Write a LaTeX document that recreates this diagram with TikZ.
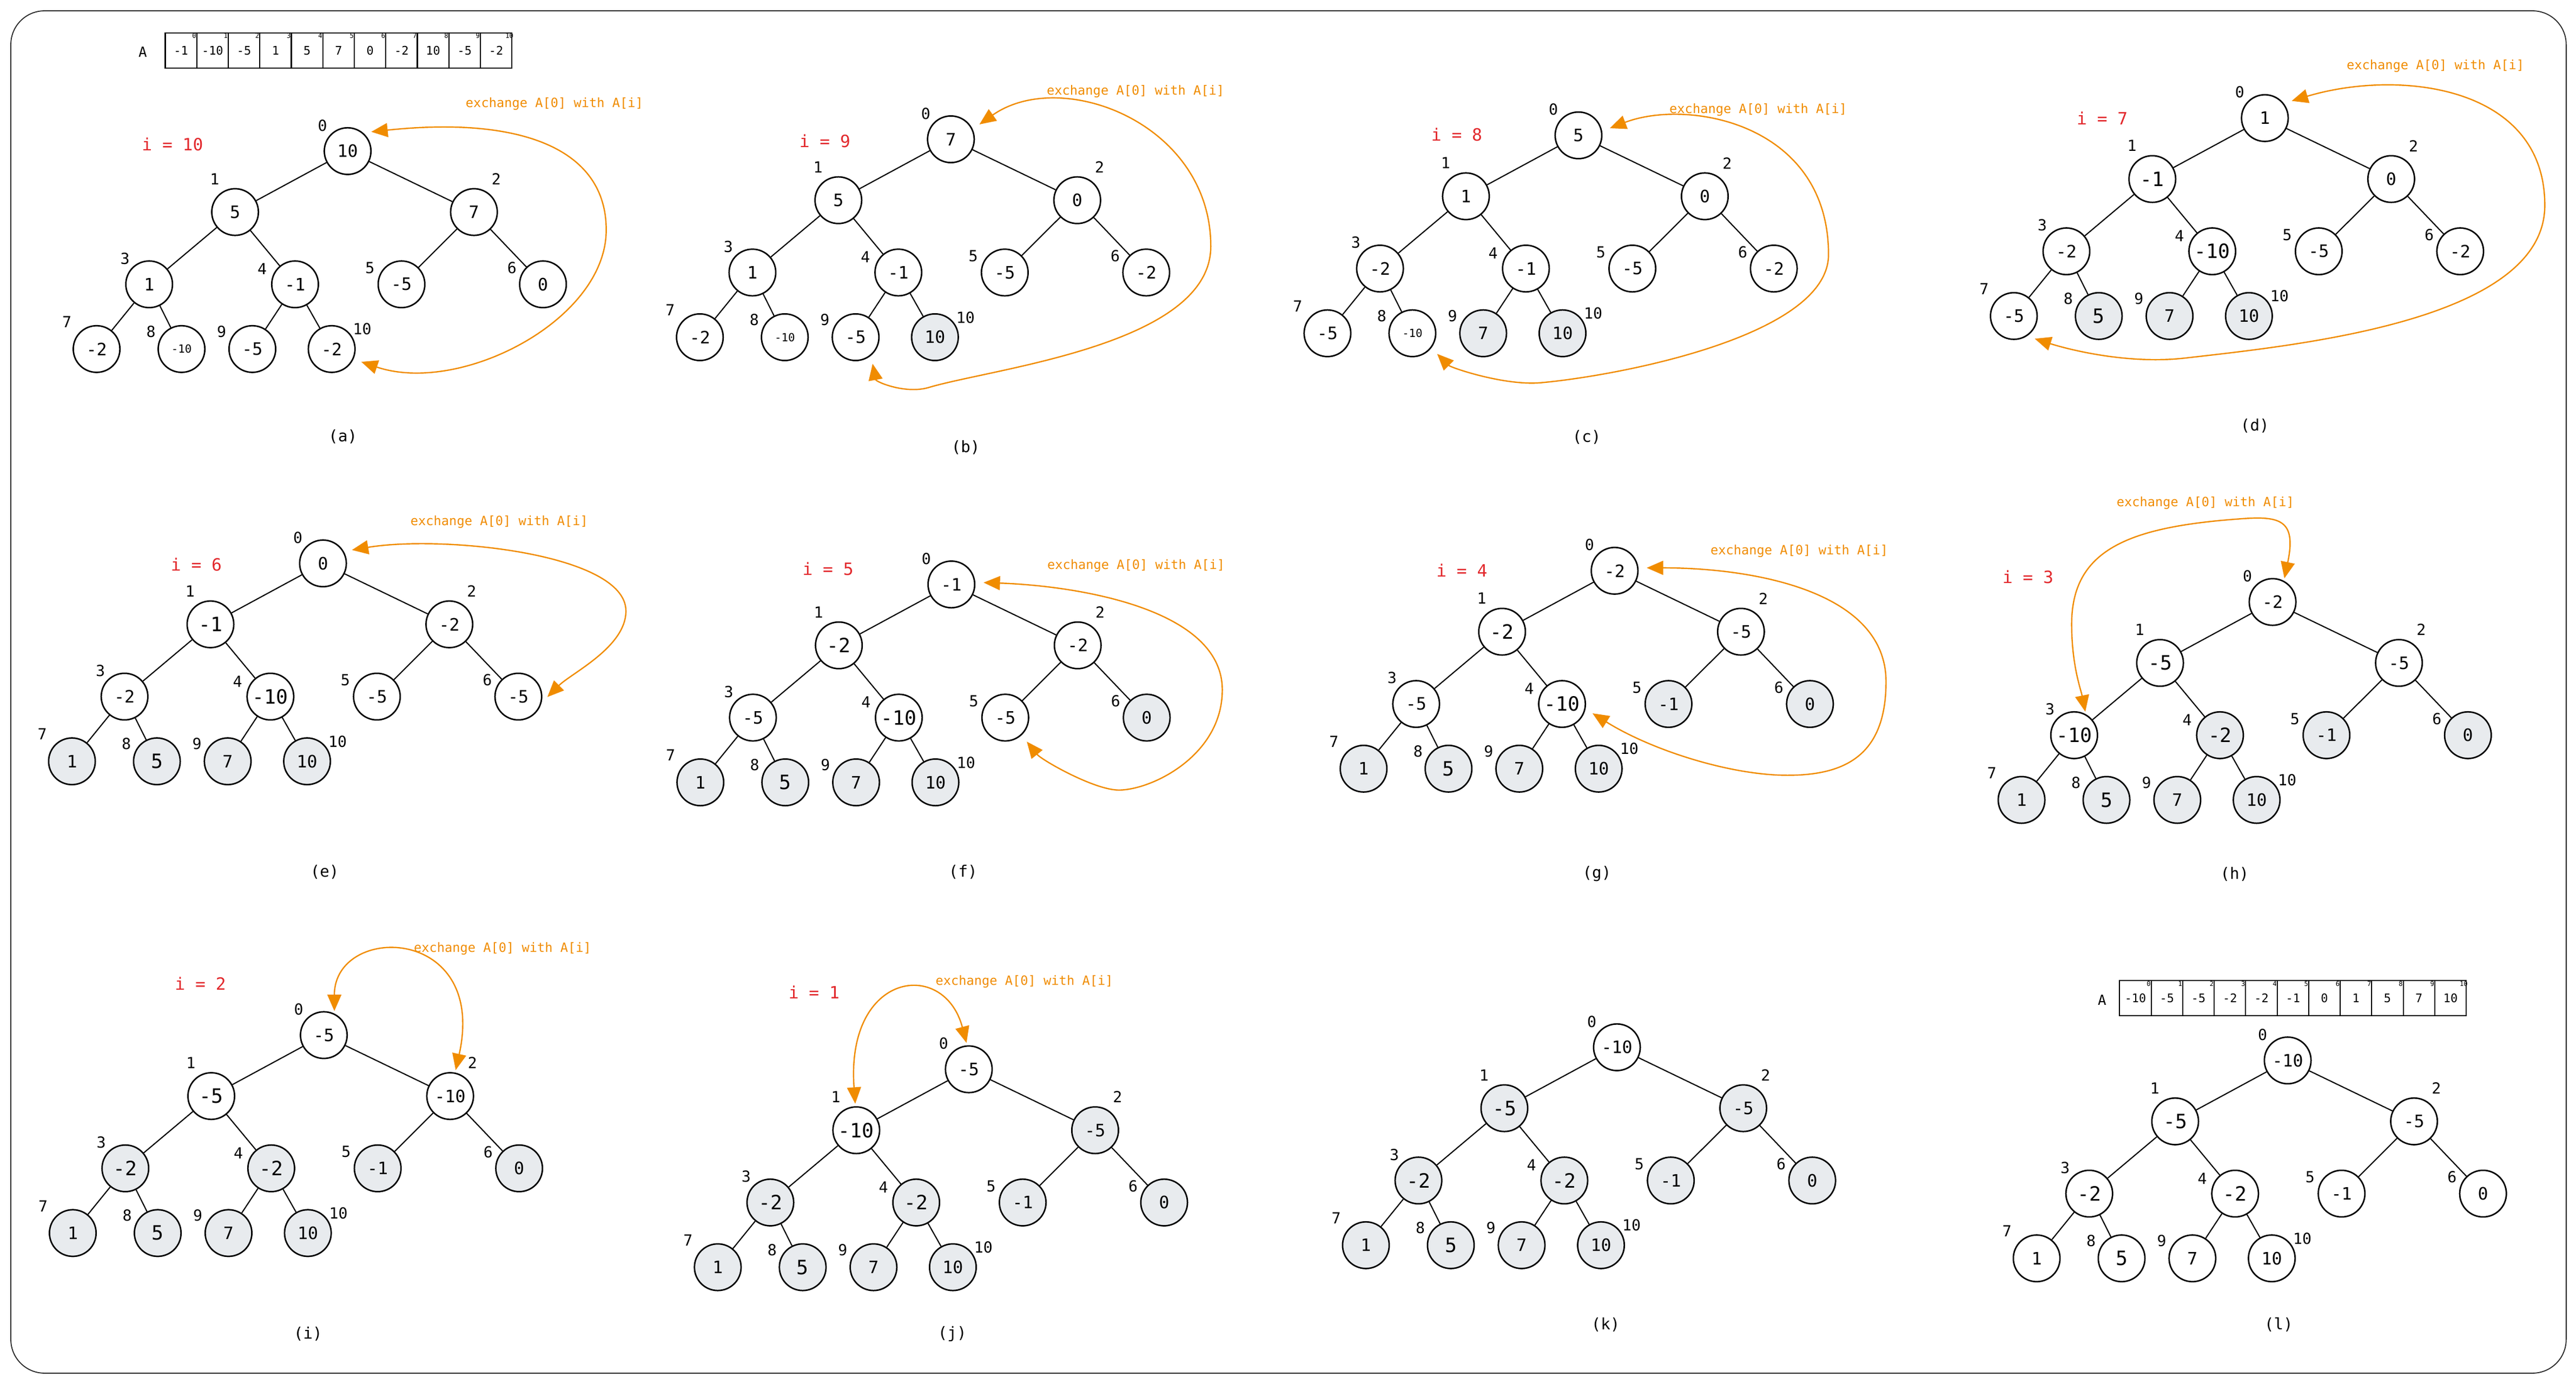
\documentclass[tikz,border=0pt]{standalone}
\usepackage{fontspec}
\setmainfont{DejaVu Sans Mono}
\usetikzlibrary{arrows.meta}

\definecolor{swaporange}{RGB}{240,140,0}
\definecolor{stepred}{RGB}{226,40,44}
\definecolor{sortedgray}{RGB}{232,235,238}
\definecolor{framegray}{RGB}{40,40,40}

\tikzset{x=1pt, y=-1pt}
\tikzset{
  hw/.style={circle, draw, line width=0.9pt, minimum size=28.4pt, inner sep=0pt, fill=white, font=\fontsize{10.4}{12}\selectfont},
  hg/.style={hw, fill=sortedgray},
  hwb/.style={hw, font=\fontsize{12}{14}\selectfont},
  hgb/.style={hg, font=\fontsize{12}{14}\selectfont},
  hwt/.style={hw, font=\fontsize{6.8}{8}\selectfont},
  idx/.style={inner sep=0pt, font=\fontsize{9.3}{11}\selectfont},
  edge/.style={line width=0.7pt},
  swap/.style={draw=swaporange, line width=0.8pt, {Triangle[length=10pt,width=8.5pt]}-{Triangle[length=10pt,width=8.5pt]}, shorten <=#1, shorten >=#1},
  swap/.default=5pt,
  steplabel/.style={inner sep=0pt, text=stepred, font=\fontsize{10.3}{12}\selectfont},
  exlabel/.style={inner sep=0pt, text=swaporange, font=\fontsize{7.8}{9}\selectfont},
  sublabel/.style={inner sep=0pt, font=\fontsize{9.6}{11}\selectfont},
  cell/.style={draw, line width=0.7pt, minimum width=19.18pt, minimum height=21.5pt, inner sep=0pt, font=\fontsize{7.2}{8}\selectfont},
  cellidx/.style={inner sep=0pt, font=\fontsize{4}{5}\selectfont},
  arrname/.style={inner sep=0pt, font=\fontsize{8.5}{10}\selectfont}
}

% one heap: name, root x, root y, value/style for positions 0..10
\newcommand{\heap}[4]{%
\foreach \v/\s [count=\k from 0] in {#4}{
  \pgfmathsetmacro{\dx}{{0,-68.5,76.9,-120.8,-32,32.8,118.9,-152.8,-101.1,-58,-9.7}[\k]}
  \pgfmathsetmacro{\dy}{{0,37.1,37.1,81.1,81.1,81.1,81.1,120.5,120.5,120.5,120.5}[\k]}
  \pgfmathsetmacro{\lx}{{-15.3,-12.4,13.6,-14.7,-20,-19.2,-18.9,-18.1,-18.6,-18.7,18.6}[\k]}
  \pgfmathsetmacro{\ly}{{-15.7,-20.2,-20.2,-15.8,-9.3,-10,-10,-16.5,-10.6,-10.6,-12.1}[\k]}
  \node[h\s] (#1\k) at (#2+\dx,#3+\dy) {\v};
  \node[idx] (#1i\k) at (#2+\dx+\lx,#3+\dy+\ly) {\k};
}
\foreach \p/\c in {0/1,0/2,1/3,1/4,2/5,2/6,3/7,3/8,4/9,4/10}
  \draw[edge] (#1\p) -- (#1\c);
}

% the array row: name, left x, top y, values
\newcommand{\heaparray}[4]{%
\foreach \v [count=\k from 0] in {#4}{
  \node[cell] (#1\k) at (#2+9.59+\k*19.18,#3+10.75) {\v};
  \node[cellidx] (#1i\k) at ([shift={(-1.9,2.2)}]#1\k.north east) {\k};
}}

\begin{document}
\begin{tikzpicture}
\useasboundingbox (0,0) rectangle (1568,842.6);
\draw[framegray, line width=0.6pt, rounded corners=20.5pt] (6.6,6.6) rectangle (1562,836);

% arrays before and after
\node[arrname] (topA) at (86.9,31.5) {A};
\heaparray{ta}{100.6}{20}{-1,-10,-5,1,5,7,0,-2,10,-5,-2}
\node[arrname] (botA) at (1279.5,608.9) {A};
\heaparray{ba}{1290.2}{597}{-10,-5,-5,-2,-2,-1,0,1,5,7,10}

% row 1
\heap{a}{211.6}{92}{10/w,5/w,7/w,1/w,-1/w,-5/w,0/w,-2/w,-10/wt,-5/w,-2/w}
\heap{b}{578.8}{84.8}{7/w,5/w,0/w,1/w,-1/w,-5/w,-2/w,-2/w,-10/wt,-5/w,10/g}
\heap{c}{960.8}{82.4}{5/w,1/w,0/w,-2/w,-1/w,-5/w,-2/w,-5/w,-10/wt,7/g,10/g}
\heap{d}{1378.6}{71.9}{1/w,-1/wb,0/w,-2/w,-10/wb,-5/w,-2/w,-5/w,5/gb,7/g,10/g}
% row 2
\heap{e}{196.6}{343}{0/w,-1/wb,-2/w,-2/w,-10/wb,-5/w,-5/w,1/g,5/gb,7/g,10/g}
\heap{f}{579.1}{355.8}{-1/w,-2/wb,-2/w,-5/w,-10/wb,-5/w,0/g,1/g,5/gb,7/g,10/g}
\heap{g}{982.8}{347.5}{-2/w,-2/wb,-5/w,-5/w,-10/wb,-1/g,0/g,1/g,5/gb,7/g,10/g}
\heap{h}{1383.3}{366.5}{-2/w,-5/wb,-5/w,-10/wb,-2/gb,-1/g,0/g,1/g,5/gb,7/g,10/g}
% row 3
\heap{i}{197.1}{630.2}{-5/w,-5/wb,-10/w,-2/gb,-2/gb,-1/g,0/g,1/g,5/gb,7/g,10/g}
\heap{j}{589.7}{651}{-5/w,-10/wb,-5/g,-2/gb,-2/gb,-1/g,0/g,1/g,5/gb,7/g,10/g}
\heap{k}{984.2}{637.6}{-10/w,-5/gb,-5/g,-2/gb,-2/gb,-1/g,0/g,1/g,5/gb,7/g,10/g}
\heap{l}{1392.5}{645.6}{-10/w,-5/wb,-5/w,-2/wb,-2/wb,-1/w,0/w,1/w,5/wb,7/w,10/w}

% i = ... labels
\node[steplabel] (ia) at (105,87.7) {i = 10};
\node[steplabel] (ib) at (502.1,85.9) {i = 9};
\node[steplabel] (ic) at (886.7,82.1) {i = 8};
\node[steplabel] (id) at (1279.6,72.1) {i = 7};
\node[steplabel] (ie) at (119.5,343.8) {i = 6};
\node[steplabel] (if) at (504,346.3) {i = 5};
\node[steplabel] (ig) at (889.8,347.4) {i = 4};
\node[steplabel] (ih) at (1234.4,351.2) {i = 3};
\node[steplabel] (iI) at (122,598.7) {i = 2};
\node[steplabel] (iJ) at (495.5,604) {i = 1};

% exchange labels
\foreach \n/\x/\y in {a/337.5/63.3,b/691.2/55.7,c/1070.2/66.8,d/1482.4/40.2,e/303.9/317.6,f/691.5/344.3,g/1095.2/335.6,h/1342.4/306.3,i/305.9/577.4,j/623.5/597.8}
  \node[exlabel] (x\n) at (\x,\y) {exchange A[0] with A[i]};

% captions
\foreach \n/\x/\y in {a/208.7/265.7,b/587.8/272.3,c/965.8/266.3,d/1372.5/259.1,e/197.6/530.9,f/586.2/530.9,g/972/532,h/1360.2/532.3,i/187.5/812,j/579.6/812,k/977.3/806.6,l/1387/806.6}
  \node[sublabel] (cap\n) at (\x,\y) {(\n)};

% swap arrows
\draw[swap] (a0.50) .. controls +(95,-10) and +(0,-50) .. (369,140) .. controls +(0,55) and +(65,22) .. (a10.-25);
\draw[swap] (b0.25) .. controls +(54,-38) and +(0,-75) .. (737,150) .. controls +(0,60) and +(40,-12) .. (565,236) .. controls +(-14,4) and +(3,16) .. (b9.-50);
\draw[swap] (c0.10) .. controls +(52,-20) and +(0,-80) .. (1113,155) .. controls +(0,50) and +(45,-4) .. (938,233) .. controls +(-22,2) and +(12,12) .. (c8.-38);
\draw[swap] (d0.38) .. controls +(70,-21) and +(0,-73) .. (1549,125) .. controls +(0,70) and +(70,-8) .. (1330,218) .. controls +(-35,4) and +(25,8) .. (d7.-57);
\draw[swap] (e0.30) .. controls +(60,-10) and +(0,-35) .. (381,372) .. controls +(0,22) and +(18,-18) .. (e6.-15);
\draw[swap] (f0.5) .. controls +(60,2) and +(0,-50) .. (744,420) .. controls +(0,40) and +(20,0) .. (681,481) .. controls +(-15,0) and +(12,15) .. (f5.-47);
\draw[swap] (g0.7) .. controls +(70,0) and +(0,-55) .. (1148,415) .. controls +(0,45) and +(35,0) .. (1088,472) .. controls +(-35,0) and +(40,25) .. (g4.-12);
\draw[swap=1.5pt] (h0.62) .. controls +(8,-38) and +(25,-2) .. (1362,316) .. controls +(-67,5) and +(0,-45) .. (1261,380) .. controls +(0,25) and +(-3,-15) .. (h3.61);
\draw[swap=1.5pt] (i0.64) .. controls +(0,-55) and +(20,-90) .. (i2.78);
\draw[swap=1.5pt] (j0.94) .. controls +(-14,-53) and +(-6,-82) .. (j1.92);
\end{tikzpicture}
\end{document}
